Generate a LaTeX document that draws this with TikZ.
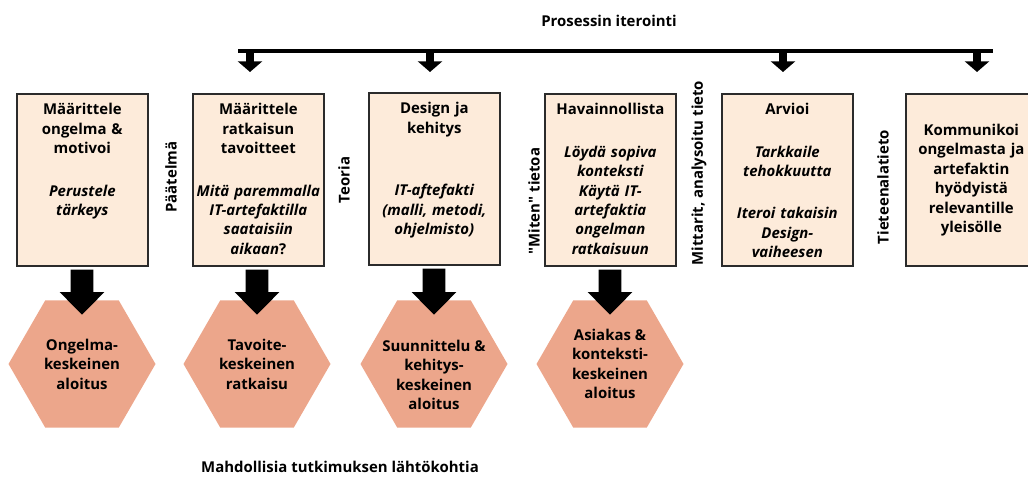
\documentclass[tikz,border=0pt]{standalone}
\usepackage{fontspec}
\setmainfont{Open Sans}
\usetikzlibrary{arrows.meta,shapes.geometric}
\definecolor{boxfill}{HTML}{FDEBDA}
\definecolor{boxline}{HTML}{2B2B2B}
\definecolor{hexfill}{HTML}{ECA68B}

\begin{document}
\begin{tikzpicture}[x=0.75pt,y=-0.75pt,
  every node/.style={font=\fontsize{11.2}{14.6}\selectfont\bfseries},
  phase/.style={draw=boxline,line width=1.5pt,fill=boxfill,anchor=north west,
    text width=93pt,align=center,inner xsep=2.5pt,inner ysep=3pt,
    text height=12.75pt,text depth=110.25pt},
  phasemid/.style={draw=boxline,line width=1.5pt,fill=boxfill,anchor=north west,
    text width=93pt,align=center,inner xsep=2.5pt,inner ysep=3pt,minimum height=129pt},
  start/.style={regular polygon,regular polygon sides=6,minimum size=110.25pt,
    inner sep=-14pt,fill=hexfill,align=center},
  side/.style={rotate=90},
  iterarrow/.style={line width=6pt,-{Triangle[width=18pt,length=8pt]}},
  bigarrow/.style={line width=17pt,-{Triangle[width=32.5pt,length=17pt]}}]
\clip (0,0) rectangle (1028,477);

\node (title) at (609,21) {Prosessin iterointi};
\draw[line width=3.5pt] (238,51) coordinate (barL) -- (993,51) coordinate (barR);
\foreach \n/\x in {2/250,3/430,5/783,6/977}
  \draw[iterarrow] (\x,51) coordinate (it\n) -- ++(0,21);

\node[phase] (b1) at (16,93) {M\"a\"arittele\\ongelma \&\\motivoi\\[17pt]
  \itshape Perustele\\ \itshape t\"arkeys};
\node[phase] (b2) at (192,93) {M\"a\"arittele\\ratkaisun\\tavoitteet\\[17pt]
  \itshape Mit\"a paremmalla\\ \itshape IT-artefaktilla\\ \itshape saataisiin\\
  \itshape aikaan\upshape?};
\node[phase] (b3) at (368,92) {Design ja\\kehitys\\[32pt]
  \itshape IT-aftefakti\\ \itshape(malli, metodi,\\ \itshape ohjelmisto)};
\node[phase] (b4) at (544,93) {Havainnollista\\[17pt]
  \itshape L\"oyd\"a sopiva\\ \itshape konteksti\\ \itshape K\"ayt\"a IT-\\
  \itshape artefaktia\\ \itshape ongelman\\ \itshape ratkaisuun};
\node[phase] (b5) at (721,93) {Arvioi\\[17pt]
  \itshape Tarkkaile\\ \itshape tehokkuutta\\[17pt]
  \itshape Iteroi takaisin\\ \itshape Design-\\ \itshape vaiheesen};
\node[phasemid] (b6) at (905,93) {Kommunikoi\\ongelmasta ja\\artefaktin\\
  hy\"odyist\"a\\relevantille\\yleis\"olle};

\node[side] (l1) at (171,177) {P\"a\"atelm\"a};
\node[side] (l2) at (344,180) {Teoria};
\node[side] (l3) at (534,201) {\textquotedbl Miten\textquotedbl\ tietoa};
\node[side] (l4) at (699,173) {Mittarit, analysoitu tieto};
\node[side] (l5) at (883,187) {Tieteenalatieto};

\node[start] (h1) at (82,364) {Ongelma-\\keskeinen\\aloitus};
\node[start] (h2) at (257,364) {Tavoite-\\keskeinen\\ratkaisu};
\node[start] (h3) at (434,364) {\rule{0pt}{25pt}Suunnittelu \&\\kehitys-\\keskeinen\\aloitus};
\node[start] (h4) at (610,364) {Asiakas \&\\konteksti-\\keskeinen\\aloitus};

\foreach \n in {1,2,3,4}
  \draw[bigarrow] ([yshift=-2pt]b\n.south -| h\n) -- ([yshift=-11pt]h\n.north);

\node (foot) at (340,467) {Mahdollisia tutkimuksen l\"aht\"okohtia};
\end{tikzpicture}
\end{document}
